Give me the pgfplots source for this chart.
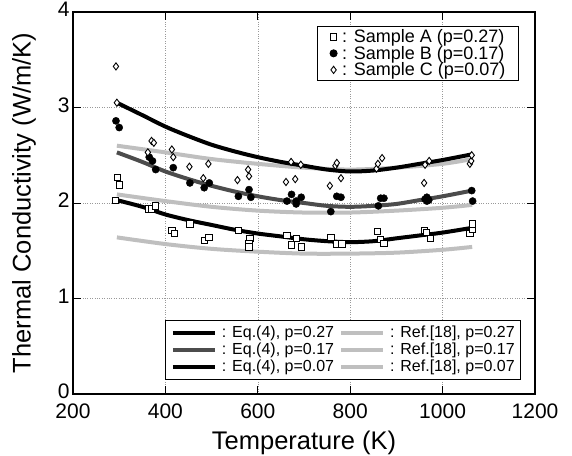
\documentclass[border=0pt]{standalone}
\usepackage{fontspec}
\setmainfont{Liberation Sans}
\usepackage{pgfplots}
\pgfplotsset{compat=1.18}

\pgfplotsset{
  base/.style={
    scale only axis, width=462pt, height=382pt,
    xmin=200, xmax=1200, ymin=0, ymax=4,
    xtick={200,400,...,1200}, ytick={0,1,2,3,4},
  },
  eqline/.style={line width=4pt, line cap=butt},
  refline/.style={line width=4pt, gray!50, line cap=butt},
}

\begin{document}
\begin{tikzpicture}
% model curves, grid and frame
\begin{axis}[base, name=main,
  axis line style={line width=2.2pt},
  tick align=inside, major tick length=8pt,
  tick style={black, line width=0.8pt},
  grid=major, major grid style={dotted, gray!80, line width=0.6pt},
  /pgf/number format/assume math mode=true,
  /pgf/number format/1000 sep={},
  tick label style={font=\fontsize{21}{21}\selectfont},
  xticklabel style={yshift=-6pt},
  yticklabel style={yshift=2.5pt},
  label style={font=\fontsize{25.5}{25.5}\selectfont},
  xlabel={Temperature (K)},
  xlabel style={at={(axis description cs:0.5,0)}, anchor=north,
    inner sep=0pt, yshift=-37pt},
  ylabel={Thermal Conductivity (W/m/K)},
  ylabel style={at={(axis description cs:-0.08,0.5)}, anchor=south,
    inner sep=0pt},
  legend columns=2,
  legend cell align=left,
  legend style={at={(0.970,0.037)}, anchor=south east,
    draw=black, line width=0.8pt,
    font=\fontsize{16}{16}\selectfont,
    nodes={inner sep=1pt}, row sep=2pt,
    inner xsep=5pt, inner ysep=5pt,
    /tikz/column sep=4pt},
  legend image code/.code={\draw[#1] (0pt,0pt) -- (42pt,0pt);},
]
\addlegendimage{eqline, black}
\addlegendentry{: Eq.(4), p=0.27}
\addlegendimage{refline}
\addlegendentry{: Ref.[18], p=0.27}
\addlegendimage{eqline, gray!60!black}
\addlegendentry{: Eq.(4), p=0.17}
\addlegendimage{refline}
\addlegendentry{: Ref.[18], p=0.17}
\addlegendimage{eqline, black}
\addlegendentry{: Eq.(4), p=0.07}
\addlegendimage{refline}
\addlegendentry{: Ref.[18], p=0.07}

% Ref.[18]
\addplot[refline, smooth, forget plot] coordinates {
  (295,1.64) (400,1.57) (500,1.52) (600,1.49) (700,1.47)
  (800,1.47) (900,1.48) (1000,1.51) (1064,1.54)};
\addplot[refline, smooth, forget plot] coordinates {
  (295,2.09) (400,2.02) (500,1.96) (600,1.92) (700,1.90)
  (800,1.90) (900,1.92) (1000,1.95) (1064,1.98)};
\addplot[refline, smooth, forget plot] coordinates {
  (295,2.60) (400,2.53) (500,2.46) (600,2.41) (700,2.37)
  (800,2.35) (900,2.37) (1000,2.41) (1064,2.46)};

% Eq.(4)
\addplot[eqline, black, smooth, forget plot] coordinates {
  (295,2.03) (350,1.96) (400,1.88) (450,1.82) (500,1.77) (550,1.72)
  (600,1.68) (650,1.65) (700,1.62) (750,1.60) (800,1.59) (850,1.60)
  (900,1.63) (950,1.66) (1000,1.69) (1064,1.74)};
\addplot[eqline, gray!60!black, smooth, forget plot] coordinates {
  (295,2.53) (350,2.43) (400,2.33) (450,2.25) (500,2.18) (550,2.12)
  (600,2.07) (650,2.03) (700,2.00) (750,1.97) (800,1.96) (850,1.97)
  (900,1.99) (950,2.03) (1000,2.07) (1064,2.13)};
\addplot[eqline, black, smooth, forget plot] coordinates {
  (295,3.05) (350,2.92) (400,2.80) (450,2.70) (500,2.61) (550,2.54)
  (600,2.48) (650,2.43) (700,2.39) (750,2.35) (800,2.33) (850,2.34)
  (900,2.37) (950,2.41) (1000,2.45) (1064,2.51)};
\end{axis}

% measured samples
\begin{axis}[base, hide axis,
  legend cell align=left,
  legend style={at={(0.965,0.963)}, anchor=north east,
    draw=black, line width=0.8pt,
    font=\fontsize{18}{18}\selectfont,
    nodes={inner sep=0pt}, row sep=2pt,
    inner xsep=13pt, inner ysep=3pt,
    /tikz/column sep=5pt},
  legend image code/.code={\draw[#1] plot coordinates {(0pt,0pt)};},
]
\addplot[only marks, mark=square*, mark size=3.2pt,
  mark options={fill=white, draw=black, line width=0.8pt}] table {
  296 2.27
  300 2.19
  292 2.03
  363 1.94
  370 1.94
  378 1.97
  414 1.71
  419 1.68
  453 1.78
  484 1.61
  494 1.64
  558 1.71
  583 1.63
  581 1.58
  581 1.54
  663 1.66
  673 1.56
  683 1.63
  694 1.54
  758 1.64
  771 1.57
  782 1.57
  859 1.70
  866 1.62
  873 1.58
  960 1.71
  965 1.69
  974 1.63
  1059 1.68
  1064 1.73
  1064 1.78
};
\addlegendentry{: Sample A (p=0.27)}

\addplot[only marks, mark=*, mark size=3.6pt, black] table {
  293 2.86
  300 2.79
  365 2.48
  372 2.44
  379 2.35
  417 2.37
  453 2.21
  484 2.16
  495 2.21
  558 2.07
  581 2.14
  585 2.06
  663 2.02
  673 2.09
  683 1.99
  683 2.02
  694 2.06
  758 1.91
  771 2.07
  780 2.06
  861 1.97
  866 2.05
  873 2.05
  962 2.04
  966 2.02
  966 2.06
  970 2.03
  1063 2.13
  1065 2.02
};
\addlegendentry{: Sample B (p=0.17)}

\addplot[only marks, mark=diamond*, mark size=3.6pt,
  mark options={fill=white, draw=black, line width=0.9pt}] table {
  293 3.43
  295 3.05
  362 2.53
  370 2.65
  375 2.63
  414 2.56
  417 2.48
  452 2.38
  482 2.26
  493 2.41
  556 2.24
  579 2.35
  581 2.28
  661 2.22
  672 2.43
  681 2.25
  693 2.40
  756 2.18
  768 2.39
  771 2.42
  780 2.26
  857 2.36
  860 2.41
  869 2.47
  960 2.21
  962 2.40
  971 2.44
  1059 2.41
  1062 2.44
  1063 2.50
};
\addlegendentry{: Sample C (p=0.07)}
\end{axis}

\pgfresetboundingbox
\path ([xshift=-73pt,yshift=-62pt]main.south west)
  rectangle ([xshift=37pt,yshift=12pt]main.north east);
\end{tikzpicture}
\end{document}
